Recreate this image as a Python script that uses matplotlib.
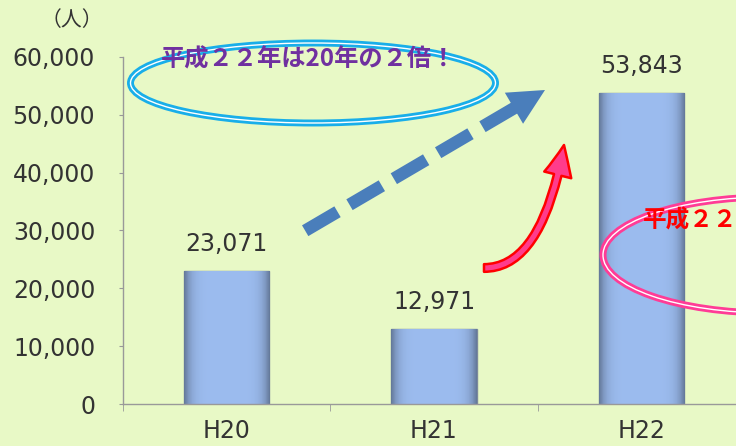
import matplotlib
matplotlib.use("Agg")
import matplotlib.pyplot as plt
import numpy as np
from matplotlib.patches import Ellipse, Polygon, FancyArrowPatch
from matplotlib.ticker import FuncFormatter

plt.rcParams['font.family'] = ['DejaVu Sans', 'Noto Sans CJK JP']
plt.rcParams['lines.scale_dashes'] = False

categories = ["H20", "H21", "H22"]
values = [23071, 12971, 53843]
yticks = [0, 10000, 20000, 30000, 40000, 50000, 60000]
unit_label = "（人）"
note_blue = "平成２２年は20年の２倍！"
note_red = "平成２２年は２１年の４倍！"

BG = "#e8f9c6"
W, H = 736, 446
fig = plt.figure(figsize=(W / 100, H / 100), dpi=100, facecolor=BG)

ax = fig.add_axes([123 / W, (H - 404) / H, (745 - 123) / W, (404 - 57) / H])
ax.set_facecolor(BG)
ax.patch.set_alpha(0)
x = np.arange(len(categories))
bars = ax.bar(x, values, width=0.41, color="#9cbcef", edgecolor="#7d8a9c", linewidth=1.0, zorder=2)

# bevel shading on each bar
prof = np.linspace(0, 1, 64)
shade = 1 - 0.35 * (np.abs(prof - 0.5) * 2) ** 6
base = np.array([0x9c, 0xbc, 0xef]) / 255.0
img = (base[None, None, :] * shade[None, :, None])
img = np.clip(img, 0, 1)
for b in bars:
    bx, by = b.get_x(), b.get_y()
    bw, bh = b.get_width(), b.get_height()
    im = ax.imshow(img, extent=[bx, bx + bw, by, by + bh], aspect='auto', zorder=2.5)
    im.set_clip_path(b)
    ax.text(b.get_x() + bw / 2, bh + 2600, f"{int(bh):,}", ha='center', va='bottom',
            fontsize=17, color="#333333", zorder=5)

ax.set_xlim(-0.5, len(categories) - 0.5)
ax.set_ylim(0, 60000)
ax.set_yticks(yticks)
ax.yaxis.set_major_formatter(FuncFormatter(lambda v, p: f"{int(v):,}"))
ax.set_xticks(x)
ax.set_xticklabels(categories)
ax.set_xticks(np.arange(len(categories) + 1) - 0.5, minor=True)
ax.tick_params(axis='x', which='major', length=0, pad=11, labelsize=17, labelcolor="#333333")
ax.tick_params(axis='x', which='minor', length=5, color="#999999", direction='out')
ax.tick_params(axis='y', length=3, color="#999999", pad=17, labelsize=17, labelcolor="#333333")
for s in ['top', 'right']:
    ax.spines[s].set_visible(False)
for s in ['left', 'bottom']:
    ax.spines[s].set_color("#999999")
    ax.spines[s].set_linewidth(1.0)

# overlay in pixel coordinates for annotations
ov = fig.add_axes([0, 0, 1, 1])
ov.set_xlim(0, W)
ov.set_ylim(H, 0)
ov.axis('off')
ov.patch.set_alpha(0)

ov.text(72, 20, unit_label, ha='center', va='center', fontsize=15, color="#333333",
        family=['Noto Sans CJK JP', 'DejaVu Sans'])

# blue ellipse
for lw, c in [(5.0, "#19aee9"), (1.0, "white")]:
    ov.add_patch(Ellipse((313, 83), 365, 80, fill=False, edgecolor=c, linewidth=lw))
ov.text(309, 60, note_blue, ha='center', va='center', fontsize=17.5, fontweight='bold',
        color="#7030a0", family=['Noto Sans CJK JP', 'DejaVu Sans'])

# pink ellipse
for lw, c in [(5.0, "#ff3c96"), (1.0, "white")]:
    ov.add_patch(Ellipse((770, 255), 334, 116, fill=False, edgecolor=c, linewidth=lw))
ov.text(643, 221, note_red, ha='left', va='center', fontsize=17, fontweight='bold',
        color="#ff0000", family=['Noto Sans CJK JP', 'DejaVu Sans'])

# dashed blue arrow
p0 = np.array([303.0, 232.0])
tip = np.array([545.0, 90.0])
d = tip - p0
d /= np.linalg.norm(d)
nrm = np.array([-d[1], d[0]])
hl, hw = 36, 18
hb = tip - d * hl
ov.plot([hb[0] + d[0] * 1, p0[0]], [hb[1] + d[1] * 1, p0[1]], color="#4a7ebb", linewidth=9,
        linestyle=(0, (27, 10)), dash_capstyle='butt', solid_capstyle='butt')
ov.add_patch(Polygon([tip, hb + nrm * hw, hb - nrm * hw], closed=True, facecolor="#4a7ebb",
                     edgecolor="none"))

# curved pink arrow
arr = FancyArrowPatch(posA=(484, 268), posB=(564, 145),
                      connectionstyle="angle3,angleA=0,angleB=80",
                      arrowstyle="simple,head_length=22,head_width=20,tail_width=5.5",
                      mutation_scale=1, facecolor="#ff3c8c", edgecolor="#ff0000", linewidth=1.8,
                      shrinkA=0, shrinkB=0)
ov.add_patch(arr)

fig.savefig("out.png", dpi=100, facecolor=BG)
